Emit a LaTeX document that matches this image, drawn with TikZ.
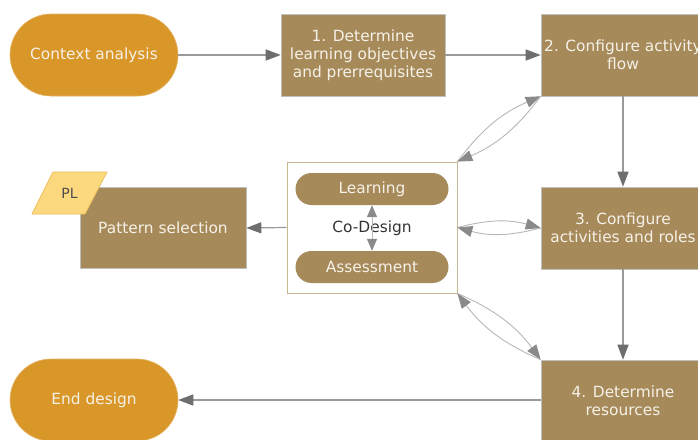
\documentclass[tikz,border=0pt]{standalone}
\usepackage{fontspec}
\setmainfont{DejaVu Sans}
\usetikzlibrary{arrows.meta,shapes.geometric}
\definecolor{orng}{HTML}{DA9729}
\definecolor{brwn}{HTML}{A68A5A}
\definecolor{txtw}{HTML}{F6F1E8}
\definecolor{plfill}{HTML}{FCD97F}
\definecolor{pldraw}{HTML}{EBC05A}
\definecolor{cdbord}{HTML}{C9B791}
\definecolor{lnclr}{HTML}{9A9A9A}
\definecolor{tipclr}{HTML}{6E6E6E}
\definecolor{crvclr}{HTML}{B8B8B8}
\definecolor{crvtip}{HTML}{8A8A8A}
\tikzset{
  txt/.style={font=\fontsize{15.4}{18}\selectfont, text=txtw, align=center},
  term/.style={txt, fill=orng, draw=orng!70!white, line width=0.6pt, rounded corners=41pt, minimum width=168pt, minimum height=82pt, inner sep=0pt},
  stepbox/.style={txt, fill=brwn, draw=black!25, line width=0.6pt, minimum width=164pt, minimum height=82pt, inner sep=0pt},
  pill/.style={txt, fill=brwn, rounded corners=16pt, minimum width=153pt, minimum height=32pt, inner sep=0pt},
  conn/.style={draw=lnclr, line width=1.2pt, -{Triangle[length=15pt,width=11pt,fill=tipclr,color=tipclr]}},
  crv/.style={draw=crvclr, line width=0.9pt, -{Triangle[length=15pt,width=11pt,fill=crvtip,color=crvtip]}},
}
\begin{document}
\begin{tikzpicture}[x=1pt,y=-1pt]
\useasboundingbox (0,0) rectangle (698,439);
\fill[white] (0,0) rectangle (698,439);

\node[term] (ctx) at (94,55) {Context analysis};
\node[stepbox] (s1) at (363,55) {1. Determine\\learning objectives\\and prerrequisites};
\node[stepbox] (s2) at (623,55) {2. Configure activity\\flow};
\node[stepbox] (s3) at (623,228) {3. Configure\\activities and roles};
\node[stepbox] (s4) at (623,401) {4. Determine\\resources};
\node[term] (end) at (94,400) {End design};
\node[stepbox, minimum width=166pt, minimum height=81pt] (pat) at (163,228) {Pattern selection};

\node[draw=cdbord, line width=0.8pt, fill=white, minimum width=170pt, minimum height=131pt] (cd) at (372,227.5) {};
\node[pill] (learn) at (372,189) {Learning};
\node[pill] (assess) at (372,267) {Assessment};
\node[font=\fontsize{15.4}{18}\selectfont, text=black!80] (cdt) at (372,228) {Co-Design};
\draw[draw=crvclr, line width=1pt, {Triangle[length=12pt,width=10pt,fill=crvtip,color=crvtip]}-{Triangle[length=12pt,width=10pt,fill=crvtip,color=crvtip]}] (learn.south) -- (assess.north);

\filldraw[draw=pldraw, fill=plfill, line width=0.8pt, line join=round] (53,172) -- (107,172) -- (85,214) -- (32,214) -- cycle;
\node[font=\fontsize{14}{16}\selectfont, text=black!70] (pl) at (69.5,193) {PL};

\draw[conn] (ctx) -- (s1);
\draw[conn] (s1) -- (s2);
\draw[conn] (s2) -- (s3);
\draw[conn] (s3) -- (s4);
\draw[conn] (s4.west |- end.east) -- (end.east);
\draw[conn] (cd.west) -- (pat.east);

\draw[crv] (cd.north east) to[bend left=15] (s2.south west);
\draw[crv] (s2.south west) to[bend left=15] (cd.north east);
\draw[crv] (cd.east) to[bend left=15] (s3.west);
\draw[crv] (s3.west) to[bend left=15] (cd.east);
\draw[crv] (cd.south east) to[bend left=15] (s4.north west);
\draw[crv] (s4.north west) to[bend left=15] (cd.south east);
\end{tikzpicture}
\end{document}
